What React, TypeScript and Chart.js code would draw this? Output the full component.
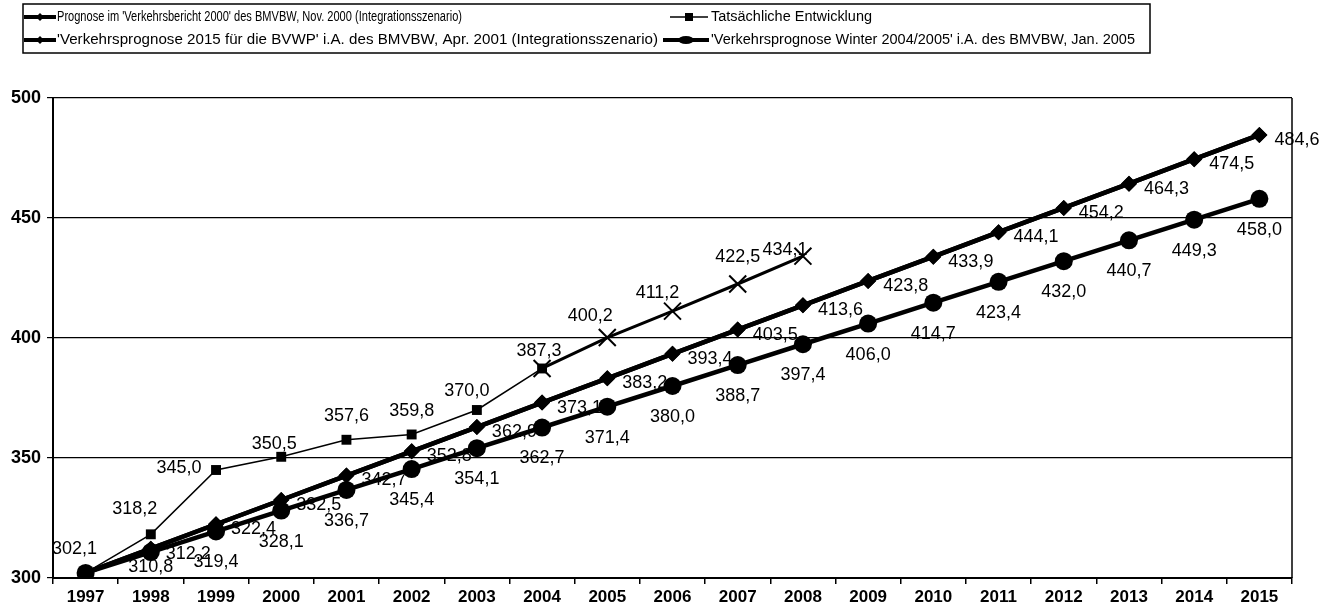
import React, { useEffect, useRef } from "react";
import { Chart, registerables } from "chart.js";

Chart.register(...registerables);

// Years on the category axis
const years = [
  "1997", "1998", "1999", "2000", "2001", "2002", "2003", "2004", "2005", "2006",
  "2007", "2008", "2009", "2010", "2011", "2012", "2013", "2014", "2015",
];

// Prognose im 'Verkehrsbericht 2000' (Integrationsszenario)
const prognoseVB2000 = [
  302.1, 312.2, 322.4, 332.5, 342.7, 352.8, 362.9, 373.1, 383.2, 393.4,
  403.5, 413.6, 423.8, 433.9, 444.1, 454.2, 464.3, 474.5, 484.6,
];

// 'Verkehrsprognose 2015 für die BVWP' (Integrationsszenario)
const prognoseBVWP2001 = [
  302.1, 312.2, 322.4, 332.5, 342.7, 352.8, 362.9, 373.1, 383.2, 393.4,
  403.5, 413.6, 423.8, 433.9, 444.1, 454.2, 464.3, 474.5, 484.6,
];

// Tatsächliche Entwicklung
const tatsaechlich = [
  302.1, 318.2, 345.0, 350.5, 357.6, 359.8, 370.0, 387.3, null, null,
  null, null, null, null, null, null, null, null, null,
];

// Fortschreibung der tatsächlichen Entwicklung
const fortschreibung = [
  null, null, null, null, null, null, null, 387.3, 400.2, 411.2,
  422.5, 434.1, null, null, null, null, null, null, null,
];

// 'Verkehrsprognose Winter 2004/2005'
const prognoseWinter0405 = [
  302.1, 310.8, 319.4, 328.1, 336.7, 345.4, 354.1, 362.7, 371.4, 380.0,
  388.7, 397.4, 406.0, 414.7, 423.4, 432.0, 440.7, 449.3, 458.0,
];

const yTicks = [300, 350, 400, 450, 500];

const legendTexts = [
  "Prognose im 'Verkehrsbericht 2000' des BMVBW, Nov. 2000 (Integrationsszenario)",
  "Tatsächliche Entwicklung",
  "'Verkehrsprognose 2015 für die BVWP' i.A. des BMVBW, Apr. 2001 (Integrationsszenario)",
  "'Verkehrsprognose Winter 2004/2005' i.A. des BMVBW, Jan. 2005",
];

// label nudges (dx, dy) for the thin series
const actualLabelNudge = [
  [-11, -24], [-16, -25], [-37, -2], [-7, -13], [0, -24], [0, -23], [-10, -19], [-3, -17],
];
const trendLabelNudge = [
  [0, 0], [0, 0], [0, 0], [0, 0], [0, 0], [0, 0], [0, 0], [0, 0],
  [-17, -21], [-15, -18], [0, -27], [-18, -6],
];

const FONT = '"Liberation Sans", Arial, Helvetica, sans-serif';
const fmt = (v: number) => v.toFixed(1).replace(".", ",");

const valueLabels = {
  id: "valueLabels",
  afterDatasetsDraw(chart: any) {
    const ctx = chart.ctx;
    ctx.save();
    ctx.font = `18px ${FONT}`;
    ctx.fillStyle = "#000";
    ctx.textBaseline = "middle";
    chart.data.datasets.forEach((ds: any, di: number) => {
      const mode = ds.labelMode;
      if (!mode) return;
      const meta = chart.getDatasetMeta(di);
      meta.data.forEach((pt: any, i: number) => {
        const v = ds.data[i];
        if (v == null) return;
        if (ds.labelSkip && ds.labelSkip.includes(i)) return;
        let x = pt.x;
        let y = pt.y;
        let align = "center";
        if (mode === "right") {
          x += 15;
          y += 5;
          align = "left";
        } else if (mode === "below") {
          y = Math.min(y + 31, chart.chartArea.bottom - 11);
        } else if (mode === "nudge") {
          const n = ds.labelNudge[i] || [0, -22];
          x += n[0];
          y += n[1];
        }
        ctx.textAlign = align;
        ctx.fillText(fmt(v), x, y);
      });
    });
    ctx.restore();
  },
};

const frameAndLegend = {
  id: "frameAndLegend",
  afterDraw(chart: any) {
    const ctx = chart.ctx;
    const a = chart.chartArea;
    ctx.save();
    // right frame line of the plot
    ctx.strokeStyle = "#000";
    ctx.lineWidth = 1.5;
    ctx.beginPath();
    ctx.moveTo(a.right, a.top);
    ctx.lineTo(a.right, a.bottom);
    ctx.stroke();

    // legend box
    ctx.lineWidth = 1.5;
    ctx.strokeRect(23, 4, 1127, 49);

    const drawText = (text: string, x0: number, x1: number, y: number) => {
      ctx.font = `13px ${FONT}`;
      ctx.textAlign = "left";
      ctx.textBaseline = "middle";
      const w = ctx.measureText(text).width;
      ctx.save();
      ctx.translate(x0, y);
      ctx.scale((x1 - x0) / w, 1.1);
      ctx.fillStyle = "#000";
      ctx.fillText(text, 0, 0);
      ctx.restore();
    };
    const line = (x0: number, x1: number, y: number, w: number) => {
      ctx.lineWidth = w;
      ctx.beginPath();
      ctx.moveTo(x0, y);
      ctx.lineTo(x1, y);
      ctx.stroke();
    };
    const diamond = (x: number, y: number, r: number) => {
      ctx.beginPath();
      ctx.moveTo(x - r, y);
      ctx.lineTo(x, y - r);
      ctx.lineTo(x + r, y);
      ctx.lineTo(x, y + r);
      ctx.closePath();
      ctx.fill();
    };
    ctx.fillStyle = "#000";
    ctx.strokeStyle = "#000";

    const r1 = 17;
    const r2 = 40;
    // entry 1
    line(24, 56, r1, 4);
    diamond(40, r1, 4);
    drawText(legendTexts[0], 57, 462, r1);
    // entry 2
    line(670, 708, r1, 1.5);
    ctx.fillRect(685, r1 - 4, 8, 8);
    drawText(legendTexts[1], 711, 872, r1);
    // entry 3
    line(24, 56, r2, 4);
    diamond(40, r2, 4);
    drawText(legendTexts[2], 57, 658, r2);
    // entry 4
    line(663, 709, r2, 4);
    ctx.beginPath();
    ctx.ellipse(686, r2, 8, 4, 0, 0, Math.PI * 2);
    ctx.fill();
    drawText(legendTexts[3], 711, 1135, r2);
    ctx.restore();
  },
};

export default function App() {
  const ref = useRef<HTMLCanvasElement | null>(null);

  useEffect(() => {
    if (!ref.current) return;
    const chart = new Chart(ref.current, {
      type: "line",
      data: {
        labels: years,
        datasets: [
          {
            label: legendTexts[1],
            data: tatsaechlich,
            borderColor: "#000",
            backgroundColor: "#000",
            borderWidth: 1.5,
            pointStyle: "rect",
            pointRadius: 7,
            pointBorderWidth: 0,
            labelMode: "nudge",
            labelNudge: actualLabelNudge,
            order: 1,
          } as any,
          {
            label: "Fortschreibung",
            data: fortschreibung,
            borderColor: "#000",
            backgroundColor: "#000",
            borderWidth: 3,
            pointStyle: "crossRot",
            pointRadius: 12,
            pointBorderWidth: 2,
            labelMode: "nudge",
            labelNudge: trendLabelNudge,
            labelSkip: [7],
            order: 0,
          } as any,
          {
            label: legendTexts[0],
            data: prognoseVB2000,
            borderColor: "#000",
            backgroundColor: "#000",
            borderWidth: 4.5,
            pointStyle: "rectRot",
            pointRadius: 8,
            pointBorderWidth: 0,
            order: 3,
          } as any,
          {
            label: legendTexts[2],
            data: prognoseBVWP2001,
            borderColor: "#000",
            backgroundColor: "#000",
            borderWidth: 4.5,
            pointStyle: "rectRot",
            pointRadius: 8,
            pointBorderWidth: 0,
            labelMode: "right",
            labelSkip: [0],
            order: 2,
          } as any,
          {
            label: legendTexts[3],
            data: prognoseWinter0405,
            borderColor: "#000",
            backgroundColor: "#000",
            borderWidth: 4.5,
            pointStyle: "circle",
            pointRadius: 9,
            pointBorderWidth: 0,
            labelMode: "below",
            labelSkip: [0],
            order: 2,
          } as any,
        ],
      },
      options: {
        animation: false,
        responsive: false,
        devicePixelRatio: 1,
        spanGaps: false,
        layout: { padding: { top: 98, left: 0, right: 43, bottom: 0 } },
        plugins: {
          legend: { display: false },
          tooltip: { enabled: false },
        },
        elements: { line: { tension: 0 } },
        scales: {
          x: {
            type: "category",
            offset: true,
            grid: {
              display: true,
              drawOnChartArea: false,
              drawTicks: true,
              tickLength: 6,
              color: "#000",
              lineWidth: 1.5,
              offset: true,
            },
            border: { display: true, color: "#000", width: 2 },
            ticks: {
              color: "#000",
              font: { size: 17, weight: "bold", family: FONT },
              padding: 3,
              maxRotation: 0,
              autoSkip: false,
            },
            afterFit: (s: any) => {
              s.height = 34;
            },
          },
          y: {
            min: yTicks[0],
            max: yTicks[yTicks.length - 1],
            afterBuildTicks: (s: any) => {
              s.ticks = yTicks.map((v) => ({ value: v }));
            },
            grid: { color: "#000", lineWidth: 1.2, tickLength: 6 },
            border: { display: true, color: "#000", width: 2 },
            ticks: {
              color: "#000",
              font: { size: 18, weight: "bold", family: FONT },
              padding: 6,
            },
            afterFit: (s: any) => {
              s.width = 53;
            },
          },
        },
      } as any,
      plugins: [valueLabels, frameAndLegend],
    });
    return () => chart.destroy();
  }, []);

  return (
    <div style={{ position: "fixed", left: 0, top: 0, width: 1335, height: 612, background: "#fff" }}>
      <canvas ref={ref} width={1335} height={612} style={{ width: 1335, height: 612 }} />
    </div>
  );
}
